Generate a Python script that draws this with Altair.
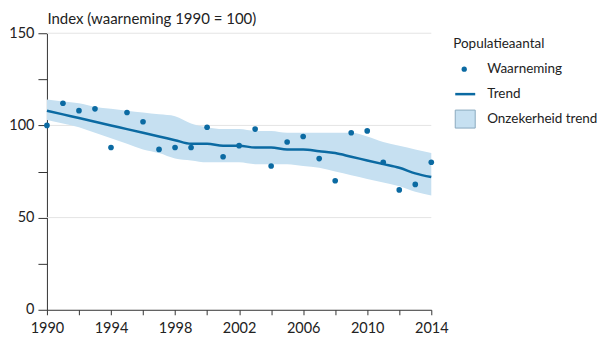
import altair as alt
import pandas as pd

years = list(range(1990, 2015))
observed = [100, 112, 108, 109, 88, 107, 102, 87, 88, 88, 99, 83, 89, 98, 78, 91, 94, 82, 70, 96, 97, 80, 65, 68, 80]
trend = [108, 106, 104, 102, 100, 98, 96, 94, 92, 90, 90, 89, 89, 88, 88, 87, 87, 86, 85, 83, 81, 79, 77, 74, 72]
upper = [114, 113, 112, 110, 109, 108, 107, 106, 105, 101, 99, 98, 98, 97, 97, 96, 96, 96, 96, 96, 94, 91, 89, 87, 85]
lower = [103, 101, 99, 96, 93, 90, 87, 85, 82, 81, 80, 80, 80, 79, 79, 79, 78, 77, 75, 73, 71, 69, 67, 64, 62]
grid_values = [50, 100, 150]
y_ticks = [0, 25, 50, 75, 100, 125, 150]
x_ticks = list(range(1990, 2015, 2))
legend_title = "Populatieaantal"
legend_labels = ["Waarneming", "Trend", "Onzekerheid trend"]

BLUE = "#0b6aa2"
BAND = "#c6e0f1"
FONT = "Lato"
FS = 14.5
LFS = 13.5

df = pd.DataFrame({"jaar": years, "waarneming": observed, "trend": trend,
                   "boven": upper, "onder": lower})

xscale = alt.Scale(domain=[1990, 2014], nice=False, zero=False)
yscale = alt.Scale(domain=[0, 150], nice=False)
Y_TITLE = "Index (waarneming 1990 = 100)"

x_axis = alt.Axis(values=x_ticks, format="d", grid=False, title=None,
                  labelExpr="(datum.value - 1990) % 4 == 0 ? datum.label : ''",
                  labelFlush=False, tickSize=5, labelPadding=7,
                  domainColor="#333", tickColor="#333",
                  labelFontSize=FS, labelColor="#222", labelFont=FONT)
y_axis = alt.Axis(values=y_ticks, grid=False, title=Y_TITLE,
                  labelExpr="datum.value % 50 == 0 ? datum.label : ''",
                  labelFlush=False, tickSize=9, labelPadding=4,
                  domainColor="#333", tickColor="#333",
                  labelFontSize=FS, labelColor="#222", labelFont=FONT,
                  titleAngle=0, titleAlign="left", titleX=0, titleY=-10,
                  titleBaseline="alphabetic", titleFontSize=FS + 0.5, titleFontWeight="normal",
                  titleFont=FONT, titleColor="#222")

base = alt.Chart(df)

grid = alt.Chart(pd.DataFrame({"g": grid_values})).mark_rule(
    color="#e4e4e4", strokeWidth=1).encode(
    y=alt.Y("g:Q", scale=yscale, axis=y_axis, title=Y_TITLE))

band = base.mark_area(color=BAND, interpolate="monotone", opacity=1).encode(
    x=alt.X("jaar:Q", scale=xscale, axis=x_axis, title=None),
    y=alt.Y("boven:Q", scale=yscale, axis=y_axis, title=Y_TITLE),
    y2="onder:Q")

line = base.mark_line(color=BLUE, strokeWidth=2.5, interpolate="monotone").encode(
    x=alt.X("jaar:Q", scale=xscale, axis=x_axis, title=None),
    y=alt.Y("trend:Q", scale=yscale, axis=y_axis, title=Y_TITLE))

points = base.mark_circle(color=BLUE, size=32, opacity=1).encode(
    x=alt.X("jaar:Q", scale=xscale, axis=x_axis, title=None),
    y=alt.Y("waarneming:Q", scale=yscale, axis=y_axis, title=Y_TITLE))

# manual legend
leg_title = alt.Chart(pd.DataFrame({"t": [legend_title]})).mark_text(
    align="left", baseline="middle", fontSize=LFS, font=FONT, color="#222").encode(
    text="t:N", x=alt.value(407), y=alt.value(11))
leg_pt = alt.Chart(pd.DataFrame({"t": [legend_labels[0]]})).mark_circle(
    color=BLUE, size=28, opacity=1).encode(x=alt.value(418), y=alt.value(36))
leg_line = alt.Chart(pd.DataFrame({"t": [legend_labels[1]]})).mark_rule(
    color=BLUE, strokeWidth=2.5).encode(x=alt.value(409), x2=alt.value(429), y=alt.value(61))
leg_rect = alt.Chart(pd.DataFrame({"t": [legend_labels[2]]})).mark_rect(
    color=BAND, stroke="#8aaabf", strokeWidth=1).encode(
    x=alt.value(409), x2=alt.value(429), y=alt.value(77), y2=alt.value(95))
leg_text = alt.Chart(pd.DataFrame({"t": legend_labels, "yy": [36, 61, 86]})).mark_text(
    align="left", baseline="middle", fontSize=LFS, font=FONT, color="#222").encode(
    text="t:N", x=alt.value(441), y=alt.Y("yy:Q", scale=None, axis=None))

chart = alt.layer(grid, band, line, points, leg_title, leg_pt, leg_line, leg_rect, leg_text).properties(
    width=385, height=277, padding={"left": 0, "top": 3, "right": 1, "bottom": 2}
).configure_view(stroke=None)

chart.save("out.html", embed_options={"renderer": "svg", "actions": False})
